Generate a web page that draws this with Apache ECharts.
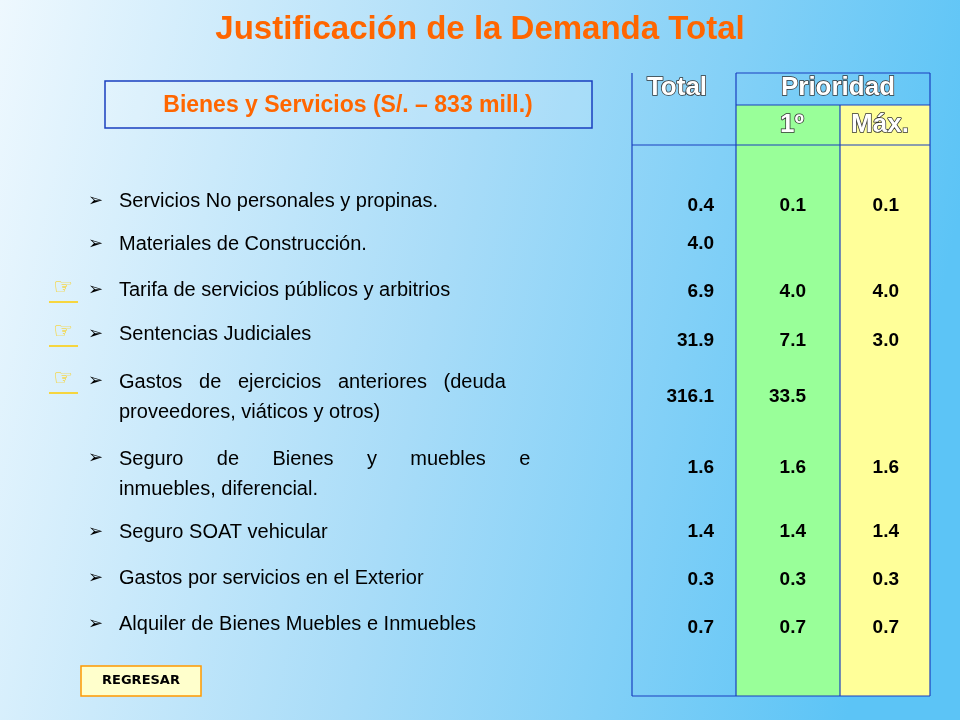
<!DOCTYPE html>
<html>
<head>
<meta charset="utf-8">
<script src="https://cdn.jsdelivr.net/npm/echarts@6/dist/echarts.min.js"></script>
<style>html,body{margin:0;padding:0;}#main{width:960px;height:720px;}</style>
</head>
<body>
<div id="main"></div>
<script>
// datos de la tabla
var items = [
    'Servicios No personales y propinas.',
    'Materiales de Construcción.',
    'Tarifa de servicios públicos y arbitrios',
    'Sentencias Judiciales',
    'Gastos   de   ejercicios   anteriores   (deuda\nproveedores, viáticos y otros)',
    'Seguro      de      Bienes      y      muebles      e\ninmuebles, diferencial.',
    'Seguro SOAT vehicular',
    'Gastos por servicios en el Exterior',
    'Alquiler de Bienes Muebles e Inmuebles'
];
var totalVals = ['0.4', '4.0', '6.9', '31.9', '316.1', '1.6', '1.4', '0.3', '0.7'];
var prio1Vals = ['0.1', '', '4.0', '7.1', '33.5', '1.6', '1.4', '0.3', '0.7'];
var maxVals = ['0.1', '', '4.0', '3.0', '', '1.6', '1.4', '0.3', '0.7'];
var hasLink = [false, false, true, true, true, false, false, false, false];

var textY = [201, 244, 290, 334, 395, 472, 532, 578, 624];
var valY = [206, 244, 292, 341, 397, 468, 532, 580, 628];

var FONT = "'Liberation Sans', Arial, sans-serif";
var myChart = echarts.init(document.getElementById('main'));
var g = [];

// fondo
g.push({type: 'rect', shape: {x: 0, y: 0, width: 960, height: 720}, z: 0,
    style: {fill: new echarts.graphic.LinearGradient(0, 0, 1, 0.3, [
        {offset: 0, color: '#eef8fe'}, {offset: 0.5, color: '#a8dcf8'}, {offset: 1, color: '#5cc4f6'}])}});

// titulo
g.push({type: 'text', x: 480, y: 30, z: 5, style: {text: 'Justificación de la Demanda Total', fill: '#ff6600',
    font: 'bold 33px ' + FONT, align: 'center', verticalAlign: 'middle',
    textShadowColor: 'rgba(0,0,0,0.5)', textShadowOffsetX: 2, textShadowOffsetY: 2}});

// subtitulo
g.push({type: 'rect', shape: {x: 105, y: 81, width: 487, height: 47}, z: 2,
    style: {fill: 'rgba(255,255,255,0.15)', stroke: '#1a3fbf', lineWidth: 1.5}});
g.push({type: 'text', x: 348, y: 106, z: 5, style: {text: 'Bienes y Servicios (S/. – 833 mill.)', fill: '#ff6600',
    font: 'bold 23px ' + FONT, align: 'center', verticalAlign: 'middle',
    textShadowColor: 'rgba(0,0,0,0.4)', textShadowOffsetX: 1, textShadowOffsetY: 1}});

// columnas de la tabla
g.push({type: 'rect', shape: {x: 736, y: 105, width: 104, height: 591}, z: 1, style: {fill: '#99ff99'}});
g.push({type: 'rect', shape: {x: 840, y: 105, width: 90, height: 591}, z: 1, style: {fill: '#ffff99'}});
var lines = [[632, 73, 632, 696], [736, 73, 736, 696], [840, 105, 840, 696], [930, 73, 930, 696],
    [632, 696, 930, 696], [736, 73, 930, 73], [736, 105, 930, 105], [632, 145, 930, 145]];
lines.forEach(function (l) {
    g.push({type: 'line', shape: {x1: l[0], y1: l[1], x2: l[2], y2: l[3]}, z: 3, style: {stroke: '#1a3fbf', lineWidth: 1.2}});
});
var hdr = function (t, x, y) {
    g.push({type: 'text', x: x, y: y, z: 5, style: {text: t, fill: '#ffffff', font: 'bold 26px ' + FONT,
        align: 'center', verticalAlign: 'middle', stroke: '#333333', lineWidth: 1.5,
        textShadowColor: 'rgba(0,0,0,0.6)', textShadowOffsetX: 2, textShadowOffsetY: 2}});
};
hdr('Total', 677, 88);
hdr('Prioridad', 838, 88);
hdr('1º', 792, 125);
hdr('Máx.', 880, 125);

// filas
items.forEach(function (t, i) {
    var multi = t.indexOf('\n') >= 0;
    g.push({type: 'text', x: 88, y: textY[i] - (multi ? 14 : 0), z: 5, style: {text: '➢', fill: '#000', font: '18px DejaVu Sans', verticalAlign: 'middle'}});
    g.push({type: 'text', x: 119, y: multi ? textY[i] - 28 : textY[i], z: 5, style: {text: t, fill: '#000', font: '20px ' + FONT,
        verticalAlign: multi ? 'top' : 'middle', lineHeight: 30}});
    if (hasLink[i]) {
        g.push({type: 'text', x: 63, y: textY[i] - (multi ? 16 : 2), z: 5, style: {text: '☞', fill: '#ffcc00', font: '22px DejaVu Sans', align: 'center', verticalAlign: 'middle'}});
        g.push({type: 'line', shape: {x1: 49, y1: textY[i] + (multi ? -2 : 12), x2: 78, y2: textY[i] + (multi ? -2 : 12)}, z: 5, style: {stroke: '#ffcc00', lineWidth: 1.5}});
    }
    var num = function (v, x) {
        if (!v) return;
        g.push({type: 'text', x: x, y: valY[i], z: 5, style: {text: v, fill: '#000', font: 'bold 19px ' + FONT, align: 'right', verticalAlign: 'middle'}});
    };
    num(totalVals[i], 714);
    num(prio1Vals[i], 806);
    num(maxVals[i], 899);
});

// boton
g.push({type: 'rect', shape: {x: 81, y: 666, width: 120, height: 30}, z: 3, style: {fill: '#ffffcc', stroke: '#ff9900', lineWidth: 1.5}});
g.push({type: 'text', x: 141, y: 681, z: 5, style: {text: 'REGRESAR', fill: '#000', font: 'bold 13px DejaVu Sans', align: 'center', verticalAlign: 'middle'}});

myChart.setOption({graphic: {elements: g}});
</script>
</body>
</html>
